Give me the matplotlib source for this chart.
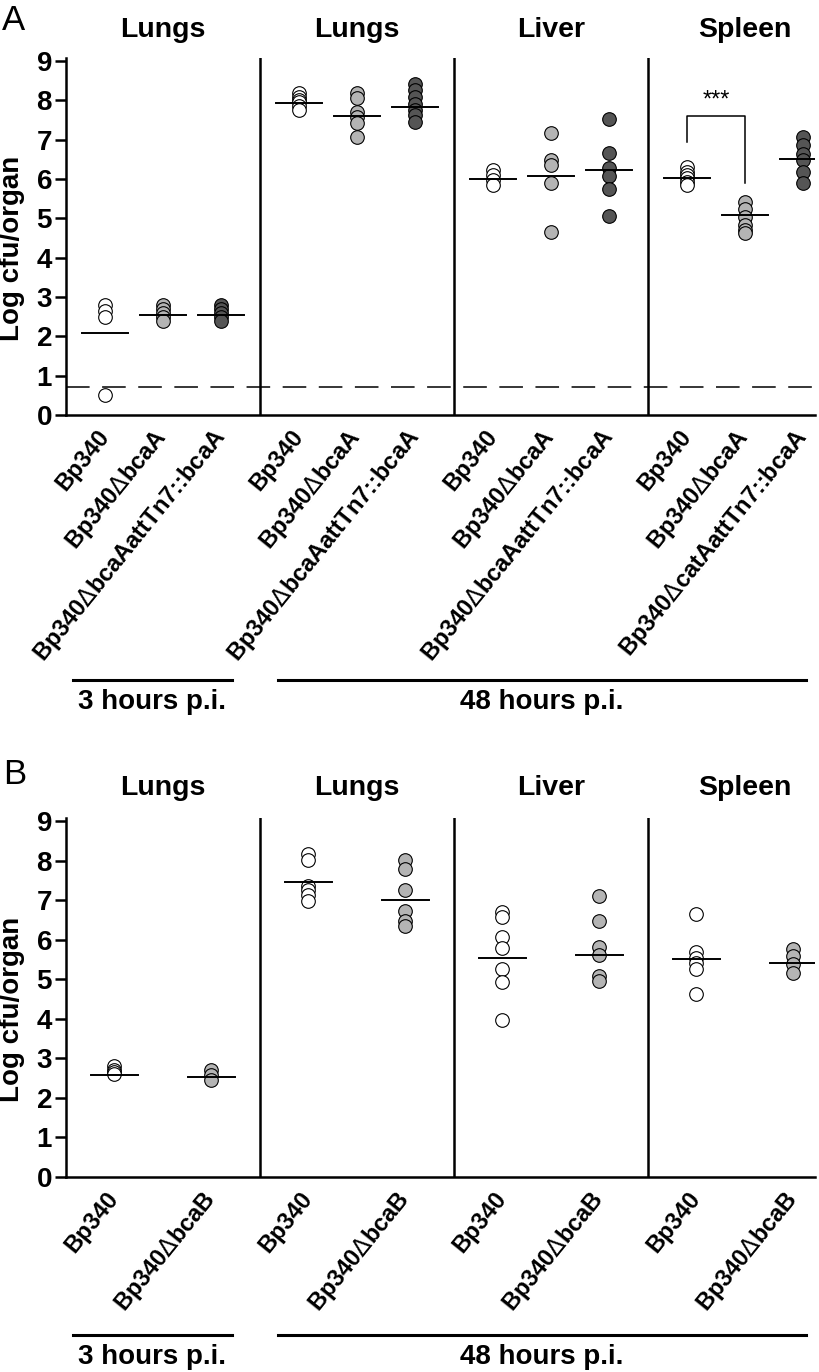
import numpy as np
import matplotlib.pyplot as plt
from matplotlib.lines import Line2D
from matplotlib.transforms import ScaledTranslation, blended_transform_factory

plt.rcParams['font.family'] = ['Liberation Sans', 'DejaVu Sans']
plt.rcParams['mathtext.fontset'] = 'dejavusans'
plt.rcParams['lines.scale_dashes'] = False

W, H = 820, 1372

organs = ['Lungs', 'Lungs', 'Liver', 'Spleen']
times = ['3 hours p.i.', '48 hours p.i.']

D = '$\\Delta$'
# panel A labels, per organ group
labels_a = [['Bp340', 'Bp340' + D + 'bcaA', 'Bp340' + D + 'bcaAattTn7::bcaA']] * 3 + \
           [['Bp340', 'Bp340' + D + 'bcaA', 'Bp340' + D + 'catAattTn7::bcaA']]
labels_b = [['Bp340', 'Bp340' + D + 'bcaB']] * 4

# panel A: log cfu/organ per group (lungs 3h, lungs 48h, liver, spleen)
a_wt = [[2.8, 2.65, 2.5, 0.5],
        [8.2, 8.1, 8.0, 7.95, 7.85, 7.75],
        [6.23, 6.1, 5.97, 5.85],
        [6.31, 6.19, 6.1, 6.02, 5.93, 5.85]]
a_mut = [[2.8, 2.7, 2.6, 2.5, 2.4],
         [8.19, 8.05, 7.71, 7.58, 7.42, 7.08],
         [7.18, 6.48, 6.36, 5.89, 4.66],
         [5.42, 5.25, 5.04, 4.83, 4.7, 4.62]]
a_comp = [[2.8, 2.7, 2.6, 2.5, 2.4],
          [8.41, 8.26, 8.09, 7.92, 7.75, 7.63, 7.46],
          [7.53, 6.67, 6.27, 6.08, 5.76, 5.07],
          [7.06, 6.86, 6.65, 6.48, 6.19, 5.89]]
a_wt_mean = [2.08, 7.94, 5.99, 6.02]
a_mut_mean = [2.55, 7.61, 6.08, 5.08]
a_comp_mean = [2.55, 7.84, 6.22, 6.5]
detection_limit = 0.7

# spleen significance bracket (WT vs mutant)
sig_y = [6.95, 7.61, 5.9]
sig_text = '***'

# panel B
b_wt = [[2.8, 2.7, 2.65, 2.6],
        [8.18, 8.01, 7.37, 7.25, 7.12, 6.99],
        [6.69, 6.57, 6.08, 5.78, 5.25, 4.92, 3.98],
        [6.65, 5.68, 5.55, 5.42, 5.27, 4.62]]
b_mut = [[2.71, 2.58, 2.46],
         [8.01, 7.8, 7.27, 6.72, 6.48, 6.36],
         [7.1, 6.48, 5.81, 5.61, 5.08, 4.96],
         [5.76, 5.59, 5.38, 5.15]]
b_wt_mean = [2.58, 7.46, 5.55, 5.51]
b_mut_mean = [2.54, 7.01, 5.62, 5.41]

colors_a = ['white', '#b4b4b4', '#555555']
colors_b = ['white', '#b4b4b4']


def draw_panel(ax, series, means, colors, labels, spacing, title_y):
    n = len(series)
    ticks, ticklabels = [], []
    for g in range(4):
        for k in range(n):
            x = g + (k - (n - 1) / 2) * spacing
            ys = series[k][g]
            ax.plot([x] * len(ys), ys, 'o', ms=9.8, mfc=colors[k], mec='black',
                    mew=0.8, ls='none', zorder=3)
            ax.plot([x - 0.12, x + 0.12], [means[k][g]] * 2, color='black',
                    lw=1.4, zorder=4)
            ticks.append(x)
            ticklabels.append(labels[g][k])
    for g in range(3):
        ax.axvline(g + 0.5, color='black', lw=1.8, zorder=2)
    tr = blended_transform_factory(ax.transData, ax.transAxes)
    for g, organ in enumerate(organs):
        ax.text(g, title_y, organ, transform=tr, ha='center', va='center',
                fontsize=20.5, fontweight='bold')

    ax.set_xlim(-0.5, -0.5 + 749 / 194)
    ax.set_ylim(0, 9.08)
    ax.set_yticks(range(10))
    ax.set_xticks(ticks)
    ax.set_xticklabels(ticklabels, rotation=51, ha='right', va='center',
                       rotation_mode='anchor', fontsize=17, fontweight='bold')
    off = ScaledTranslation(6 / 100, 0, ax.figure.dpi_scale_trans)
    for lab in ax.get_xticklabels():
        lab.set_transform(lab.get_transform() + off)
    ax.tick_params(axis='x', length=0, pad=13)
    ax.tick_params(axis='y', length=8, width=1.8, pad=2, labelsize=20)
    for lab in ax.get_yticklabels():
        lab.set_fontweight('bold')
    for s in ['top', 'right']:
        ax.spines[s].set_visible(False)
    for s in ['left', 'bottom']:
        ax.spines[s].set_linewidth(1.8)
    ax.set_ylabel('Log cfu/organ', fontsize=20, fontweight='bold')
    ax.yaxis.set_label_coords(-0.055, 0.468)


def fig_line(fig, x0, x1, y):
    fig.add_artist(Line2D([x0 / W, x1 / W], [1 - y / H, 1 - y / H],
                          color='black', lw=2.2))


def time_brackets(fig, y_line, y_text):
    fig_line(fig, 73, 232, y_line)
    fig_line(fig, 278, 806, y_line)
    fig.text(152 / W, 1 - y_text / H, times[0], ha='center', va='center',
             fontsize=20, fontweight='bold')
    fig.text(542 / W, 1 - y_text / H, times[1], ha='center', va='center',
             fontsize=20, fontweight='bold')


fig = plt.figure(figsize=(W / 100, H / 100), dpi=100)

ax_a = fig.add_axes([66 / W, 1 - 415 / H, 749 / W, 357 / H])
draw_panel(ax_a, [a_wt, a_mut, a_comp], [a_wt_mean, a_mut_mean, a_comp_mean],
           colors_a, labels_a, 0.3, 1.078)
ax_a.axhline(detection_limit, color='black', lw=1.1, dashes=(17, 9), zorder=1)
xl, xr = 3 - 0.3, 3.0
ax_a.plot([xl, xl, xr, xr], [sig_y[0], sig_y[1], sig_y[1], sig_y[2]],
          color='black', lw=1.1)
ax_a.text((xl + xr) / 2, sig_y[1] + 0.12, sig_text, ha='center', va='bottom',
          fontsize=17)

ax_b = fig.add_axes([66 / W, 1 - 1177 / H, 749 / W, 359 / H])
draw_panel(ax_b, [b_wt, b_mut], [b_wt_mean, b_mut_mean],
           colors_b, labels_b, 0.5, 1.0836)

time_brackets(fig, 680, 702)
time_brackets(fig, 1335, 1357)

fig.text(2 / W, 1 - 4 / H, 'A', fontsize=25, ha='left', va='top')
fig.text(3 / W, 1 - 758 / H, 'B', fontsize=25, ha='left', va='top')

fig.savefig('out.png', dpi=100)
